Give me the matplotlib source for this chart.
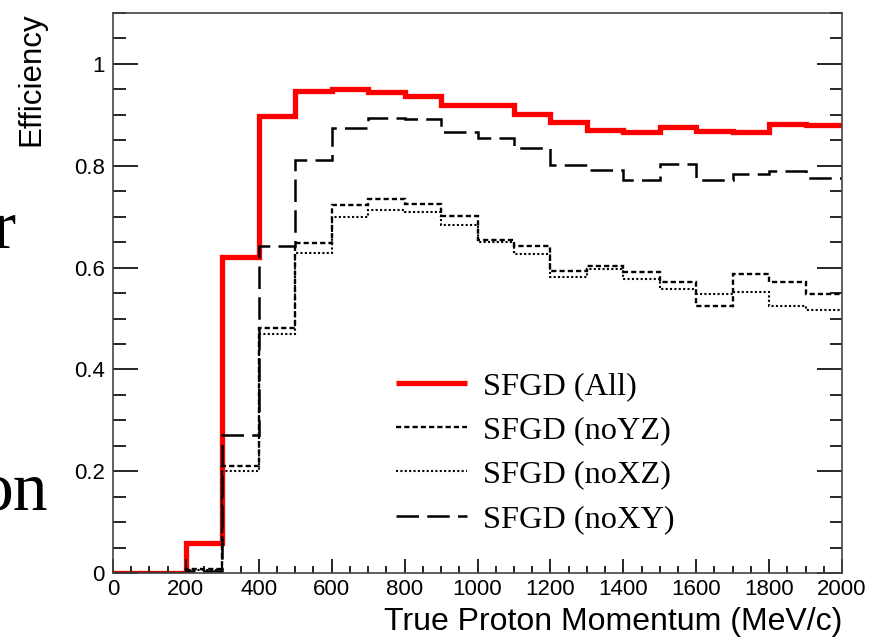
import numpy as np
import matplotlib
matplotlib.use("Agg")
import matplotlib.pyplot as plt
from matplotlib.ticker import MultipleLocator

# Momentum bins (MeV/c), 100 MeV wide
edges = np.arange(0, 2001, 100)

eff_all = [0.0, 0.0, 0.059, 0.621, 0.897, 0.946, 0.950, 0.945, 0.937, 0.920,
           0.920, 0.901, 0.886, 0.870, 0.867, 0.876, 0.868, 0.867, 0.882, 0.880]
eff_noYZ = [0.0, 0.0, 0.008, 0.211, 0.482, 0.649, 0.723, 0.735, 0.724, 0.702,
            0.655, 0.642, 0.593, 0.603, 0.591, 0.572, 0.525, 0.587, 0.572, 0.549]
eff_noXZ = [0.0, 0.0, 0.006, 0.201, 0.469, 0.629, 0.700, 0.714, 0.710, 0.684,
            0.650, 0.626, 0.582, 0.598, 0.578, 0.557, 0.549, 0.552, 0.525, 0.516]
eff_noXY = [0.0, 0.0, 0.005, 0.271, 0.642, 0.812, 0.874, 0.894, 0.891, 0.867,
            0.854, 0.834, 0.802, 0.791, 0.771, 0.804, 0.771, 0.784, 0.790, 0.775]

labels = ["SFGD (All)", "SFGD (noYZ)", "SFGD (noXZ)", "SFGD (noXY)"]

plt.rcParams['font.family'] = ['Liberation Sans', 'DejaVu Sans']

fig = plt.figure(figsize=(8.69, 6.41), dpi=100)
ax = fig.add_axes([0.130, 0.1056, 0.839, 0.8744])

h_all = ax.stairs(eff_all, edges, baseline=None, color='#ff0000', lw=3.8,
                  label=labels[0])
h_yz = ax.stairs(eff_noYZ, edges, baseline=None, color='black', lw=1.7,
                 linestyle=(0, (2.2, 1.3)), label=labels[1])
h_xz = ax.stairs(eff_noXZ, edges, baseline=None, color='black', lw=1.5,
                 linestyle=(0, (1.0, 1.1)), label=labels[2])
h_xy = ax.stairs(eff_noXY, edges, baseline=None, color='black', lw=1.8,
                 linestyle=(0, (9, 3.3)), label=labels[3])

ax.set_xlim(0, 2000)
ax.set_ylim(0, 1.1)

ax.xaxis.set_major_locator(MultipleLocator(200))
ax.xaxis.set_minor_locator(MultipleLocator(50))
ax.yaxis.set_minor_locator(MultipleLocator(0.05))
ax.set_yticks([0, 0.2, 0.4, 0.6, 0.8, 1.0])
ax.set_yticklabels(["0", "0.2", "0.4", "0.6", "0.8", "1"])

ax.tick_params(axis='both', which='both', direction='in', labelsize=16,
               color='black', width=1.2)
ax.tick_params(axis='y', which='major', length=18, right=True, left=True, pad=6)
ax.tick_params(axis='y', which='minor', length=9, right=True, left=True)
ax.tick_params(axis='x', which='major', length=10, top=False, pad=4)
ax.tick_params(axis='x', which='minor', length=5, top=False)

for s in ax.spines.values():
    s.set_color('#444444')
    s.set_linewidth(1.2)

ax.set_xlabel("True Proton Momentum (MeV/c)", fontsize=23, loc='right', labelpad=5)
ax.set_ylabel("Efficiency", fontsize=22.5, loc='top', labelpad=20)

leg = ax.legend(handles=[h_all, h_yz, h_xz, h_xy], labels=labels,
                loc='upper left', bbox_to_anchor=(0.388, 0.36),
                frameon=False, handlelength=2.2, handletextpad=0.5,
                labelspacing=0.45, borderaxespad=0, borderpad=0,
                prop={'family': 'Liberation Serif', 'size': 23.3})
for line in leg.get_lines():
    line.set_solid_capstyle('butt')

# Fragments of slide text beside the plot
fig.text(16 / 869, 1 - 248 / 641, "r", fontsize=50, family='Liberation Serif',
         ha='right', va='baseline')
fig.text(48 / 869, 1 - 510 / 641, "on", fontsize=50, family='Liberation Serif',
         ha='right', va='baseline')

fig.savefig("out.png", dpi=100)
